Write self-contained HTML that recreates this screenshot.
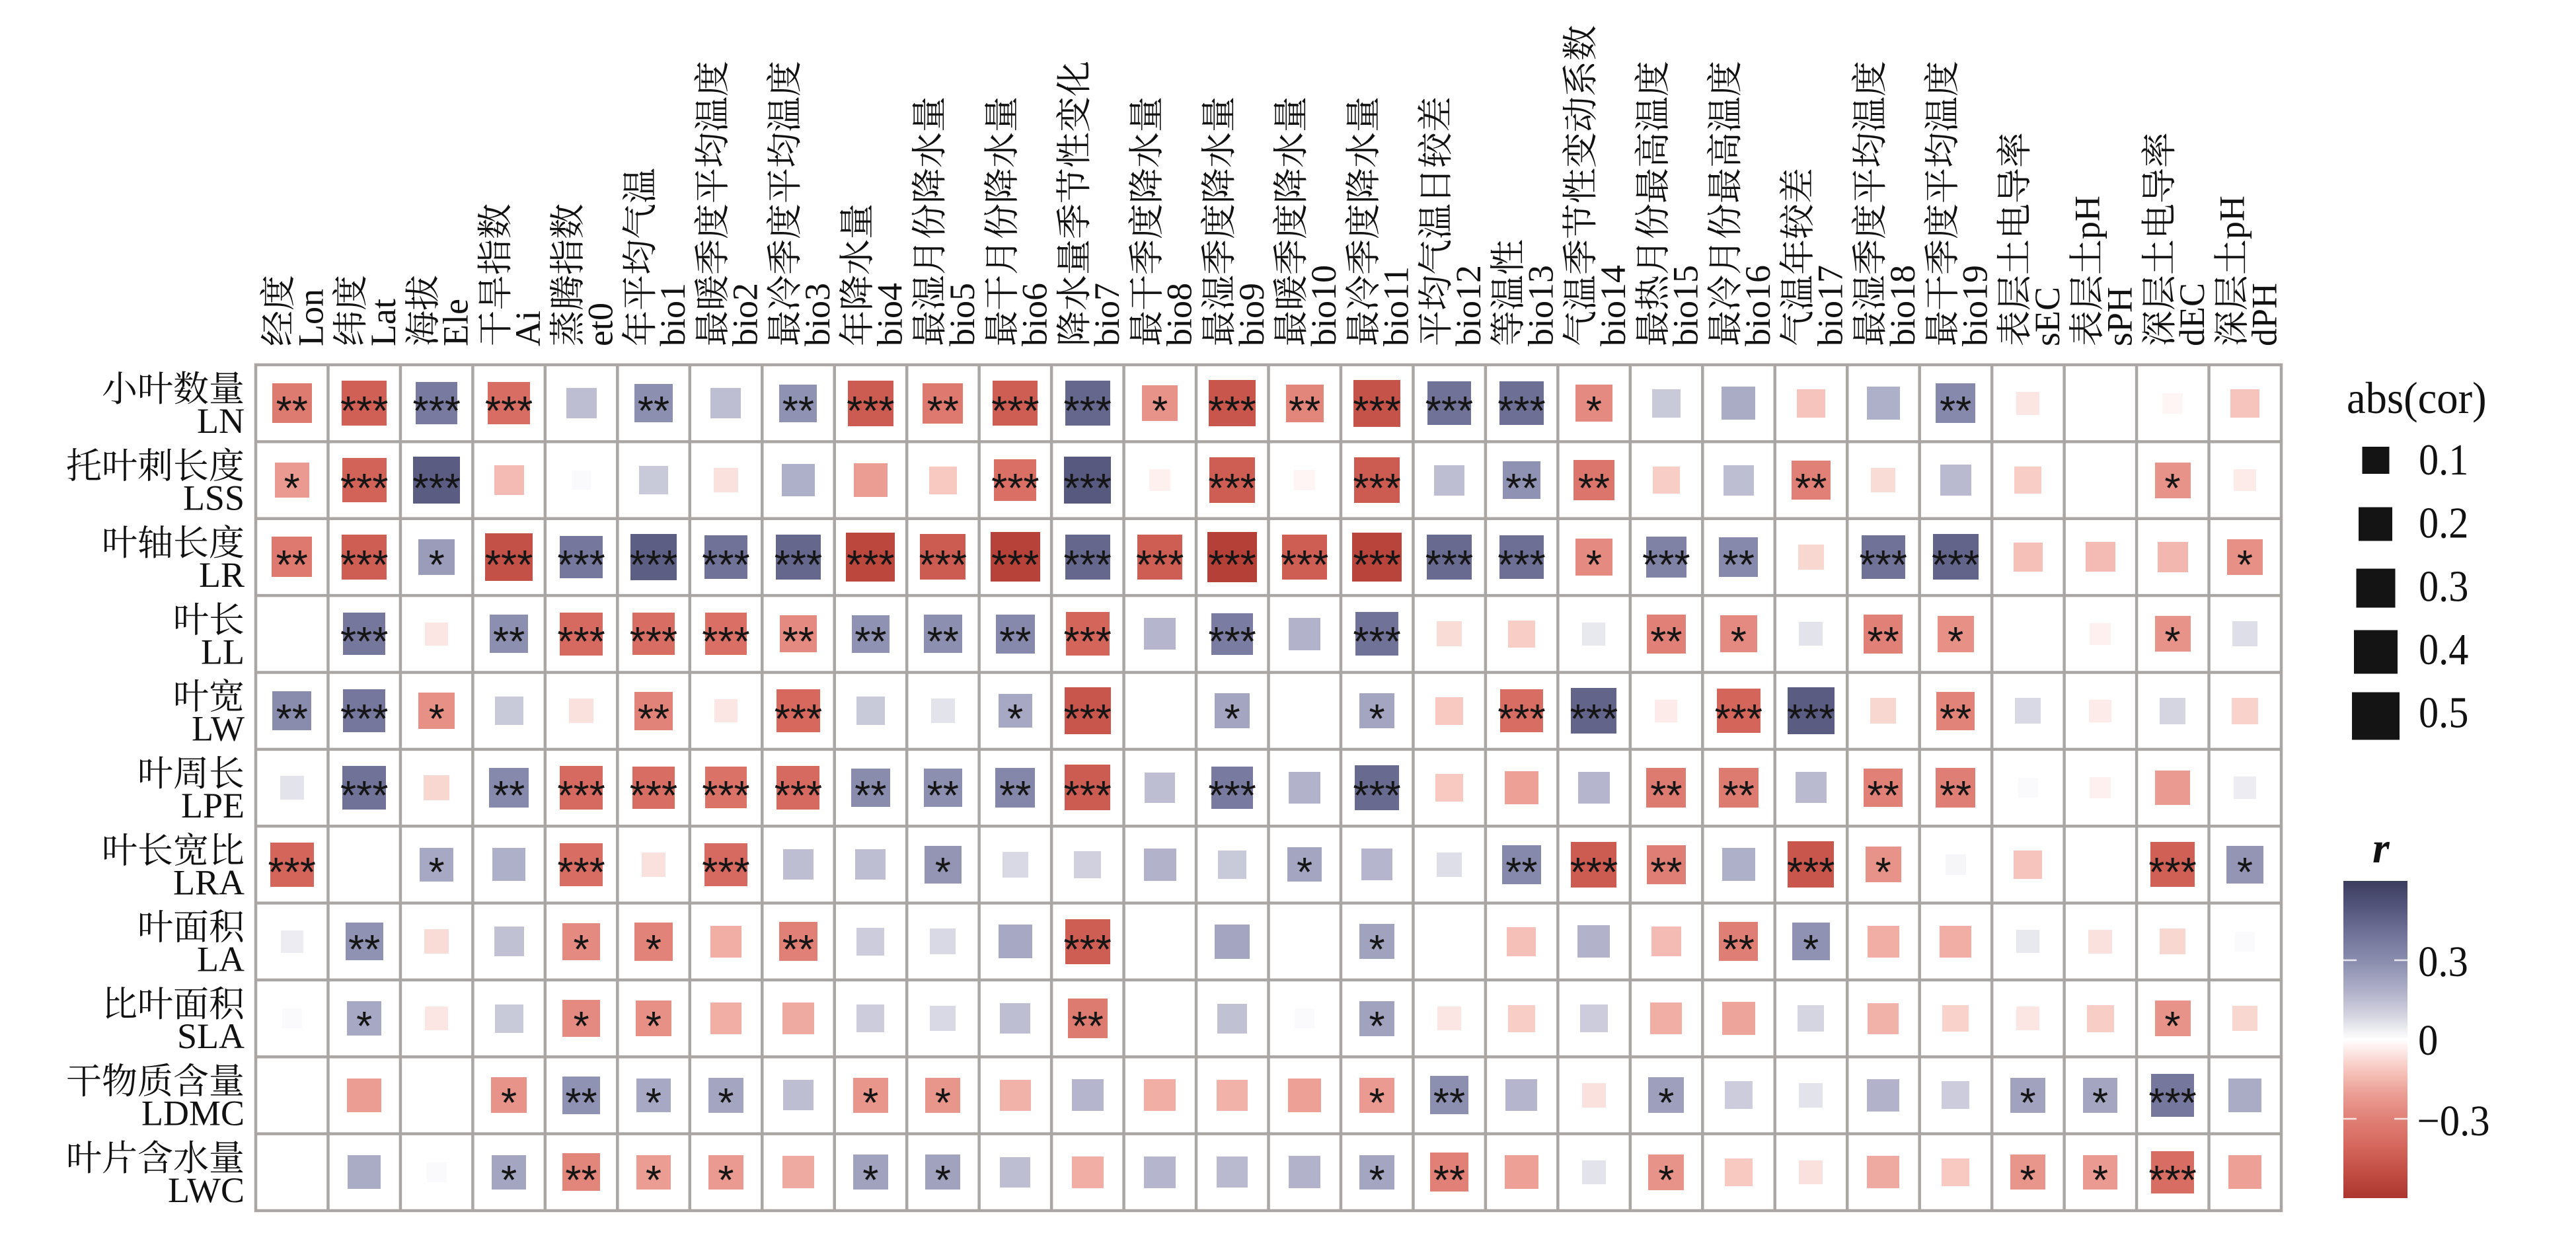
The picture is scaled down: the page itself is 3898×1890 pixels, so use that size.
<!DOCTYPE html>
<html><head><meta charset="utf-8">
<style>
html,body{margin:0;padding:0;background:#fff;}
body{width:3898px;height:1890px;position:relative;overflow:hidden;}
.g{position:absolute;left:387px;top:552px;width:3065px;height:1280px;display:grid;grid-template-columns:repeat(28,109.464px);grid-template-rows:repeat(11,116.364px);}
.g>div{display:flex;align-items:center;justify-content:center;overflow:visible;}
.g i{flex:none;display:flex;align-items:center;justify-content:center;box-sizing:border-box;padding-top:26px;font-style:normal;font-family:"Liberation Sans",sans-serif;font-size:62px;line-height:62px;color:#151515;white-space:nowrap;width:var(--s);height:var(--s);}
svg{position:absolute;left:0;top:0;}
i[class$="01"]{--s:29.8px}i[class$="02"]{--s:31.2px}i[class$="03"]{--s:32.6px}i[class$="04"]{--s:33.9px}i[class$="05"]{--s:35.2px}
i[class$="06"]{--s:36.4px}i[class$="07"]{--s:37.6px}i[class$="08"]{--s:38.8px}i[class$="09"]{--s:39.9px}i[class$="10"]{--s:41px}
i[class$="11"]{--s:42px}i[class$="12"]{--s:43.1px}i[class$="13"]{--s:44.1px}i[class$="14"]{--s:45.1px}i[class$="15"]{--s:46px}
i[class$="16"]{--s:47px}i[class$="17"]{--s:47.9px}i[class$="18"]{--s:48.8px}i[class$="19"]{--s:49.7px}i[class$="20"]{--s:50.6px}
i[class$="21"]{--s:51.5px}i[class$="22"]{--s:52.3px}i[class$="23"]{--s:53.1px}i[class$="24"]{--s:54px}i[class$="25"]{--s:54.8px}
i[class$="27"]{--s:56.4px}i[class$="28"]{--s:57.1px}i[class$="29"]{--s:57.9px}i[class$="30"]{--s:58.7px}i[class$="31"]{--s:59.4px}
i[class$="32"]{--s:60.1px}i[class$="33"]{--s:60.9px}i[class$="34"]{--s:61.6px}i[class$="36"]{--s:63px}i[class$="37"]{--s:63.7px}
i[class$="38"]{--s:64.4px}i[class$="39"]{--s:65.1px}i[class$="40"]{--s:65.7px}i[class$="41"]{--s:66.4px}i[class$="42"]{--s:67.1px}
i[class$="43"]{--s:67.7px}i[class$="44"]{--s:68.4px}i[class$="45"]{--s:69px}i[class$="47"]{--s:70.3px}i[class$="48"]{--s:70.9px}
i[class$="49"]{--s:71.5px}i[class$="53"]{--s:73.9px}i[class$="54"]{--s:74.5px}i[class$="55"]{--s:75.1px}i[class$="56"]{--s:75.7px}
.n02{background:#fef5f4}.n03{background:#fdf0ee}.n04{background:#fcebe8}.n05{background:#fce6e3}.n06{background:#fbe1dd}
.n07{background:#fadcd7}.n08{background:#f9d7d1}.n09{background:#f9d2cc}.n10{background:#f8cdc6}.n11{background:#f7c9c1}
.n12{background:#f6c4bc}.n13{background:#f4c0b8}.n14{background:#f3bbb3}.n15{background:#f2b7ae}.n16{background:#f1b2a9}
.n17{background:#f0aea4}.n18{background:#eea9a0}.n19{background:#eda59b}.n20{background:#eca096}.n21{background:#eb9d93}
.n22{background:#ea9a90}.n23{background:#e8968c}.n24{background:#e79389}.n25{background:#e69086}.n27{background:#e48a80}
.n28{background:#e2867c}.n29{background:#e18379}.n30{background:#e08076}.n31{background:#df7e74}.n32{background:#de7b71}
.n33{background:#dd796f}.n34{background:#dc766c}.n36{background:#da7268}.n37{background:#d96f65}.n38{background:#d86d63}
.n39{background:#d76a60}.n40{background:#d6685e}.n41{background:#d4655b}.n42{background:#d26359}.n43{background:#d06056}
.n44{background:#ce5e54}.n45{background:#cc5b51}.n47{background:#c8564c}.n48{background:#c65349}.n49{background:#c45147}
.n53{background:#bb473d}.n54{background:#b9443b}.n55{background:#b74239}.n56{background:#b54037}
.p01{background:#fafafc}.p02{background:#f6f6f8}.p04{background:#ececf2}.p05{background:#e8e8ef}.p06{background:#e3e3eb}
.p07{background:#dedee8}.p08{background:#d9d9e5}.p09{background:#d5d5e1}.p10{background:#d0d0de}.p11{background:#ccccdc}
.p12{background:#c8c9d9}.p14{background:#c1c1d4}.p15{background:#bdbed2}.p16{background:#b9bacf}.p17{background:#b5b6cd}
.p18{background:#b2b2ca}.p19{background:#aeafc8}.p20{background:#aaabc5}.p21{background:#a7a8c3}.p22{background:#a4a5c0}
.p23{background:#a0a2be}.p24{background:#9d9fbc}.p25{background:#9a9cba}.p27{background:#9495b5}.p28{background:#9092b3}
.p29{background:#8d8fb0}.p30{background:#8a8cae}.p31{background:#8789ac}.p32{background:#8587aa}.p34{background:#8082a5}
.p36{background:#7a7ca1}.p37{background:#787a9f}.p38{background:#75779c}.p40{background:#707298}.p41{background:#6d6f95}
.p43{background:#686a90}.p44{background:#65678d}.p45{background:#62648a}.p47{background:#5c5e84}.p48{background:#5a5c82}
.p49{background:#57597f}
</style></head><body>
<div class="g">
<div><i class="n32">**</i></div><div><i class="n43">***</i></div><div><i class="p37">***</i></div><div><i class="n38">***</i></div><div><i class="p15"></i></div><div><i class="p29">**</i></div><div><i class="p15"></i></div><div><i class="p28">**</i></div><div><i class="n45">***</i></div><div><i class="n33">**</i></div><div><i class="n44">***</i></div><div><i class="p44">***</i></div><div><i class="n24">*</i></div><div><i class="n47">***</i></div><div><i class="n28">**</i></div><div><i class="n48">***</i></div><div><i class="p40">***</i></div><div><i class="p41">***</i></div><div><i class="n27">*</i></div><div><i class="p12"></i></div><div><i class="p20"></i></div><div><i class="n12"></i></div><div><i class="p19"></i></div><div><i class="p31">**</i></div><div><i class="n05"></i></div><div></div><div><i class="n02"></i></div><div><i class="n12"></i></div>
<div><i class="n22">*</i></div><div><i class="n42">***</i></div><div><i class="p48">***</i></div><div><i class="n14"></i></div><div><i class="p01"></i></div><div><i class="p12"></i></div><div><i class="n06"></i></div><div><i class="p19"></i></div><div><i class="n21"></i></div><div><i class="n11"></i></div><div><i class="n37">***</i></div><div><i class="p49">***</i></div><div><i class="n03"></i></div><div><i class="n44">***</i></div><div><i class="n02"></i></div><div><i class="n45">***</i></div><div><i class="p15"></i></div><div><i class="p28">**</i></div><div><i class="n34">**</i></div><div><i class="n10"></i></div><div><i class="p15"></i></div><div><i class="n30">**</i></div><div><i class="n07"></i></div><div><i class="p16"></i></div><div><i class="n10"></i></div><div></div><div><i class="n24">*</i></div><div><i class="n04"></i></div>
<div><i class="n33">**</i></div><div><i class="n44">***</i></div><div><i class="p25">*</i></div><div><i class="n49">***</i></div><div><i class="p38">***</i></div><div><i class="p47">***</i></div><div><i class="p40">***</i></div><div><i class="p44">***</i></div><div><i class="n53">***</i></div><div><i class="n45">***</i></div><div><i class="n55">***</i></div><div><i class="p44">***</i></div><div><i class="n44">***</i></div><div><i class="n56">***</i></div><div><i class="n44">***</i></div><div><i class="n54">***</i></div><div><i class="p43">***</i></div><div><i class="p41">***</i></div><div><i class="n27">*</i></div><div><i class="p34">***</i></div><div><i class="p31">**</i></div><div><i class="n08"></i></div><div><i class="p40">***</i></div><div><i class="p45">***</i></div><div><i class="n13"></i></div><div><i class="n14"></i></div><div><i class="n15"></i></div><div><i class="n25">*</i></div>
<div></div><div><i class="p38">***</i></div><div><i class="n05"></i></div><div><i class="p29">**</i></div><div><i class="n39">***</i></div><div><i class="n38">***</i></div><div><i class="n37">***</i></div><div><i class="n27">**</i></div><div><i class="p28">**</i></div><div><i class="p29">**</i></div><div><i class="p31">**</i></div><div><i class="n41">***</i></div><div><i class="p17"></i></div><div><i class="p36">***</i></div><div><i class="p18"></i></div><div><i class="p40">***</i></div><div><i class="n07"></i></div><div><i class="n10"></i></div><div><i class="p05"></i></div><div><i class="n30">**</i></div><div><i class="n27">*</i></div><div><i class="p06"></i></div><div><i class="n30">**</i></div><div><i class="n25">*</i></div><div></div><div><i class="n03"></i></div><div><i class="n24">*</i></div><div><i class="p07"></i></div>
<div><i class="p30">**</i></div><div><i class="p38">***</i></div><div><i class="n25">*</i></div><div><i class="p12"></i></div><div><i class="n06"></i></div><div><i class="n29">**</i></div><div><i class="n05"></i></div><div><i class="n40">***</i></div><div><i class="p12"></i></div><div><i class="p06"></i></div><div><i class="p21">*</i></div><div><i class="n47">***</i></div><div></div><div><i class="p22">*</i></div><div></div><div><i class="p22">*</i></div><div><i class="n11"></i></div><div><i class="n38">***</i></div><div><i class="p45">***</i></div><div><i class="n04"></i></div><div><i class="n41">***</i></div><div><i class="p48">***</i></div><div><i class="n08"></i></div><div><i class="n29">**</i></div><div><i class="p08"></i></div><div><i class="n04"></i></div><div><i class="p09"></i></div><div><i class="n09"></i></div>
<div><i class="p06"></i></div><div><i class="p40">***</i></div><div><i class="n08"></i></div><div><i class="p31">**</i></div><div><i class="n39">***</i></div><div><i class="n38">***</i></div><div><i class="n36">***</i></div><div><i class="n39">***</i></div><div><i class="p30">**</i></div><div><i class="p29">**</i></div><div><i class="p32">**</i></div><div><i class="n45">***</i></div><div><i class="p15"></i></div><div><i class="p37">***</i></div><div><i class="p18"></i></div><div><i class="p43">***</i></div><div><i class="n11"></i></div><div><i class="n20"></i></div><div><i class="p17"></i></div><div><i class="n32">**</i></div><div><i class="n32">**</i></div><div><i class="p16"></i></div><div><i class="n30">**</i></div><div><i class="n31">**</i></div><div><i class="p01"></i></div><div><i class="n03"></i></div><div><i class="n22"></i></div><div><i class="p04"></i></div>
<div><i class="n41">***</i></div><div></div><div><i class="p21">*</i></div><div><i class="p19"></i></div><div><i class="n38">***</i></div><div><i class="n06"></i></div><div><i class="n39">***</i></div><div><i class="p15"></i></div><div><i class="p15"></i></div><div><i class="p27">*</i></div><div><i class="p08"></i></div><div><i class="p10"></i></div><div><i class="p18"></i></div><div><i class="p12"></i></div><div><i class="p22">*</i></div><div><i class="p17"></i></div><div><i class="p07"></i></div><div><i class="p31">**</i></div><div><i class="n45">***</i></div><div><i class="n31">**</i></div><div><i class="p19"></i></div><div><i class="n47">***</i></div><div><i class="n24">*</i></div><div><i class="p02"></i></div><div><i class="n12"></i></div><div></div><div><i class="n43">***</i></div><div><i class="p27">*</i></div>
<div><i class="p04"></i></div><div><i class="p28">**</i></div><div><i class="n07"></i></div><div><i class="p14"></i></div><div><i class="n27">*</i></div><div><i class="n29">*</i></div><div><i class="n17"></i></div><div><i class="n30">**</i></div><div><i class="p11"></i></div><div><i class="p08"></i></div><div><i class="p21"></i></div><div><i class="n44">***</i></div><div></div><div><i class="p22"></i></div><div></div><div><i class="p23">*</i></div><div></div><div><i class="n13"></i></div><div><i class="p18"></i></div><div><i class="n14"></i></div><div><i class="n31">**</i></div><div><i class="p28">*</i></div><div><i class="n17"></i></div><div><i class="n17"></i></div><div><i class="p05"></i></div><div><i class="n06"></i></div><div><i class="n08"></i></div><div><i class="p01"></i></div>
<div><i class="p01"></i></div><div><i class="p21">*</i></div><div><i class="n05"></i></div><div><i class="p12"></i></div><div><i class="n27">*</i></div><div><i class="n25">*</i></div><div><i class="n17"></i></div><div><i class="n18"></i></div><div><i class="p11"></i></div><div><i class="p08"></i></div><div><i class="p15"></i></div><div><i class="n32">**</i></div><div></div><div><i class="p14"></i></div><div><i class="p01"></i></div><div><i class="p23">*</i></div><div><i class="n05"></i></div><div><i class="n10"></i></div><div><i class="p11"></i></div><div><i class="n17"></i></div><div><i class="n19"></i></div><div><i class="p09"></i></div><div><i class="n16"></i></div><div><i class="n09"></i></div><div><i class="n05"></i></div><div><i class="n10"></i></div><div><i class="n24">*</i></div><div><i class="n08"></i></div>
<div></div><div><i class="n21"></i></div><div></div><div><i class="n24">*</i></div><div><i class="p28">**</i></div><div><i class="p21">*</i></div><div><i class="p22">*</i></div><div><i class="p15"></i></div><div><i class="n23">*</i></div><div><i class="n23">*</i></div><div><i class="n16"></i></div><div><i class="p17"></i></div><div><i class="n17"></i></div><div><i class="n16"></i></div><div><i class="n20"></i></div><div><i class="n22">*</i></div><div><i class="p29">**</i></div><div><i class="p17"></i></div><div><i class="n06"></i></div><div><i class="p24">*</i></div><div><i class="p11"></i></div><div><i class="p06"></i></div><div><i class="p18"></i></div><div><i class="p11"></i></div><div><i class="p23">*</i></div><div><i class="p22">*</i></div><div><i class="p38">***</i></div><div><i class="p20"></i></div>
<div></div><div><i class="p20"></i></div><div><i class="p01"></i></div><div><i class="p22">*</i></div><div><i class="n28">**</i></div><div><i class="n21">*</i></div><div><i class="n22">*</i></div><div><i class="n18"></i></div><div><i class="p23">*</i></div><div><i class="p23">*</i></div><div><i class="p15"></i></div><div><i class="n17"></i></div><div><i class="p17"></i></div><div><i class="p16"></i></div><div><i class="p18"></i></div><div><i class="p22">*</i></div><div><i class="n30">**</i></div><div><i class="n20"></i></div><div><i class="p06"></i></div><div><i class="n24">*</i></div><div><i class="n11"></i></div><div><i class="n06"></i></div><div><i class="n18"></i></div><div><i class="n11"></i></div><div><i class="n23">*</i></div><div><i class="n22">*</i></div><div><i class="n38">***</i></div><div><i class="n20"></i></div>
</div>
<svg width="3898" height="1890" viewBox="0 0 3898 1890" xmlns="http://www.w3.org/2000/svg">
<defs>
<linearGradient id="cb" x1="0" y1="0" x2="0" y2="1">
<stop offset="0" stop-color="#3c3c5e"/><stop offset="0.0833" stop-color="#54567c"/><stop offset="0.1667" stop-color="#707298"/>
<stop offset="0.25" stop-color="#8a8cae"/><stop offset="0.3333" stop-color="#aaabc5"/><stop offset="0.4167" stop-color="#d0d0de"/>
<stop offset="0.5" stop-color="#ffffff"/><stop offset="0.5833" stop-color="#f8cdc6"/><stop offset="0.6667" stop-color="#eca096"/>
<stop offset="0.75" stop-color="#e08076"/><stop offset="0.8333" stop-color="#d6685e"/><stop offset="0.9167" stop-color="#c24e44"/>
<stop offset="1" stop-color="#ac362e"/>
</linearGradient>
</defs>
<path fill="none" stroke="#aaa6a3" stroke-width="4.5" stroke-linecap="square" d="M387 552V1832M496.46 552V1832M605.93 552V1832M715.39 552V1832M824.86 552V1832M934.32 552V1832M1043.79 552V1832M1153.25 552V1832M1262.71 552V1832M1372.18 552V1832M1481.64 552V1832M1591.11 552V1832M1700.57 552V1832M1810.04 552V1832M1919.5 552V1832M2028.96 552V1832M2138.43 552V1832M2247.89 552V1832M2357.36 552V1832M2466.82 552V1832M2576.29 552V1832M2685.75 552V1832M2795.21 552V1832M2904.68 552V1832M3014.14 552V1832M3123.61 552V1832M3233.07 552V1832M3342.54 552V1832M3452 552V1832M387 552H3452M387 668.36H3452M387 784.73H3452M387 901.09H3452M387 1017.45H3452M387 1133.82H3452M387 1250.18H3452M387 1366.55H3452M387 1482.91H3452M387 1599.27H3452M387 1715.64H3452M387 1832H3452"/>
<g font-family="'Liberation Serif','Noto Serif CJK SC',serif" font-size="54" fill="#111">
<text transform="translate(439.7 524) rotate(-90)">经度</text><text transform="translate(488.7 524) rotate(-90)">Lon</text>
<text transform="translate(549.2 524) rotate(-90)">纬度</text><text transform="translate(598.2 524) rotate(-90)">Lat</text>
<text transform="translate(658.7 524) rotate(-90)">海拔</text><text transform="translate(707.7 524) rotate(-90)">Ele</text>
<text transform="translate(768.1 524) rotate(-90)">干旱指数</text><text transform="translate(817.1 524) rotate(-90)">Ai</text>
<text transform="translate(877.6 524) rotate(-90)">蒸腾指数</text><text transform="translate(926.6 524) rotate(-90)">et0</text>
<text transform="translate(987 524) rotate(-90)">年平均气温</text><text transform="translate(1036 524) rotate(-90)">bio1</text>
<text transform="translate(1096.5 524) rotate(-90)">最暖季度平均温度</text><text transform="translate(1145.5 524) rotate(-90)">bio2</text>
<text transform="translate(1206 524) rotate(-90)">最冷季度平均温度</text><text transform="translate(1255 524) rotate(-90)">bio3</text>
<text transform="translate(1315.4 524) rotate(-90)">年降水量</text><text transform="translate(1364.4 524) rotate(-90)">bio4</text>
<text transform="translate(1424.9 524) rotate(-90)">最湿月份降水量</text><text transform="translate(1473.9 524) rotate(-90)">bio5</text>
<text transform="translate(1534.4 524) rotate(-90)">最干月份降水量</text><text transform="translate(1583.4 524) rotate(-90)">bio6</text>
<text transform="translate(1643.8 524) rotate(-90)">降水量季节性变化</text><text transform="translate(1692.8 524) rotate(-90)">bio7</text>
<text transform="translate(1753.3 524) rotate(-90)">最干季度降水量</text><text transform="translate(1802.3 524) rotate(-90)">bio8</text>
<text transform="translate(1862.8 524) rotate(-90)">最湿季度降水量</text><text transform="translate(1911.8 524) rotate(-90)">bio9</text>
<text transform="translate(1972.2 524) rotate(-90)">最暖季度降水量</text><text transform="translate(2021.2 524) rotate(-90)">bio10</text>
<text transform="translate(2081.7 524) rotate(-90)">最冷季度降水量</text><text transform="translate(2130.7 524) rotate(-90)">bio11</text>
<text transform="translate(2191.2 524) rotate(-90)">平均气温日较差</text><text transform="translate(2240.2 524) rotate(-90)">bio12</text>
<text transform="translate(2300.6 524) rotate(-90)">等温性</text><text transform="translate(2349.6 524) rotate(-90)">bio13</text>
<text transform="translate(2410.1 524) rotate(-90)">气温季节性变动系数</text><text transform="translate(2459.1 524) rotate(-90)">bio14</text>
<text transform="translate(2519.6 524) rotate(-90)">最热月份最高温度</text><text transform="translate(2568.6 524) rotate(-90)">bio15</text>
<text transform="translate(2629 524) rotate(-90)">最冷月份最高温度</text><text transform="translate(2678 524) rotate(-90)">bio16</text>
<text transform="translate(2738.5 524) rotate(-90)">气温年较差</text><text transform="translate(2787.5 524) rotate(-90)">bio17</text>
<text transform="translate(2847.9 524) rotate(-90)">最湿季度平均温度</text><text transform="translate(2896.9 524) rotate(-90)">bio18</text>
<text transform="translate(2957.4 524) rotate(-90)">最干季度平均温度</text><text transform="translate(3006.4 524) rotate(-90)">bio19</text>
<text transform="translate(3066.9 524) rotate(-90)">表层土电导率</text><text transform="translate(3115.9 524) rotate(-90)">sEC</text>
<text transform="translate(3176.3 524) rotate(-90)">表层土pH</text><text transform="translate(3225.3 524) rotate(-90)">sPH</text>
<text transform="translate(3285.8 524) rotate(-90)">深层土电导率</text><text transform="translate(3334.8 524) rotate(-90)">dEC</text>
<text transform="translate(3395.3 524) rotate(-90)">深层土pH</text><text transform="translate(3444.3 524) rotate(-90)">dPH</text>
</g>
<g font-family="'Liberation Serif','Noto Serif CJK SC',serif" font-size="54" fill="#111" text-anchor="end">
<text x="370" y="607.2">小叶数量</text><text x="370" y="655.2">LN</text>
<text x="370" y="723.5">托叶刺长度</text><text x="370" y="771.5">LSS</text>
<text x="370" y="839.9">叶轴长度</text><text x="370" y="887.9">LR</text>
<text x="370" y="956.3">叶长</text><text x="370" y="1004.3">LL</text>
<text x="370" y="1072.6">叶宽</text><text x="370" y="1120.6">LW</text>
<text x="370" y="1189">叶周长</text><text x="370" y="1237">LPE</text>
<text x="370" y="1305.4">叶长宽比</text><text x="370" y="1353.4">LRA</text>
<text x="370" y="1421.7">叶面积</text><text x="370" y="1469.7">LA</text>
<text x="370" y="1538.1">比叶面积</text><text x="370" y="1586.1">SLA</text>
<text x="370" y="1654.5">干物质含量</text><text x="370" y="1702.5">LDMC</text>
<text x="370" y="1770.8">叶片含水量</text><text x="370" y="1818.8">LWC</text>
</g>
<g font-family="'Liberation Serif',serif" fill="#111">
<text transform="translate(3551 625) scale(0.95 1)" font-size="68">abs(cor)</text>
<rect x="3574.5" y="676" width="41" height="41" fill="#141414"/>
<rect x="3569" y="767.5" width="51" height="51" fill="#141414"/>
<rect x="3565.5" y="860.5" width="59" height="59" fill="#141414"/>
<rect x="3562" y="953.5" width="66" height="66" fill="#141414"/>
<rect x="3559" y="1047.5" width="72" height="72" fill="#141414"/>
<text transform="translate(3660 718) scale(0.9 1)" font-size="67">0.1</text>
<text transform="translate(3660 813.6) scale(0.9 1)" font-size="67">0.2</text>
<text transform="translate(3660 909.3) scale(0.9 1)" font-size="67">0.3</text>
<text transform="translate(3660 1005) scale(0.9 1)" font-size="67">0.4</text>
<text transform="translate(3660 1100.7) scale(0.9 1)" font-size="67">0.5</text>
<text x="3590" y="1305" font-size="66" font-style="italic" font-weight="bold">r</text>
<rect x="3546" y="1333" width="97" height="480" fill="url(#cb)"/>
<path d="M3546 1453h20M3623 1453h20M3546 1693h20M3623 1693h20M3546 1573h20M3623 1573h20" stroke="#fff" stroke-width="2.5" opacity="0.8"/>
<text transform="translate(3659 1477) scale(0.92 1)" font-size="66">0.3</text>
<text transform="translate(3659 1596) scale(0.92 1)" font-size="66">0</text>
<text transform="translate(3657.5 1718) scale(0.92 1)" font-size="66">−0.3</text>
</g>
</svg>
</body></html>
